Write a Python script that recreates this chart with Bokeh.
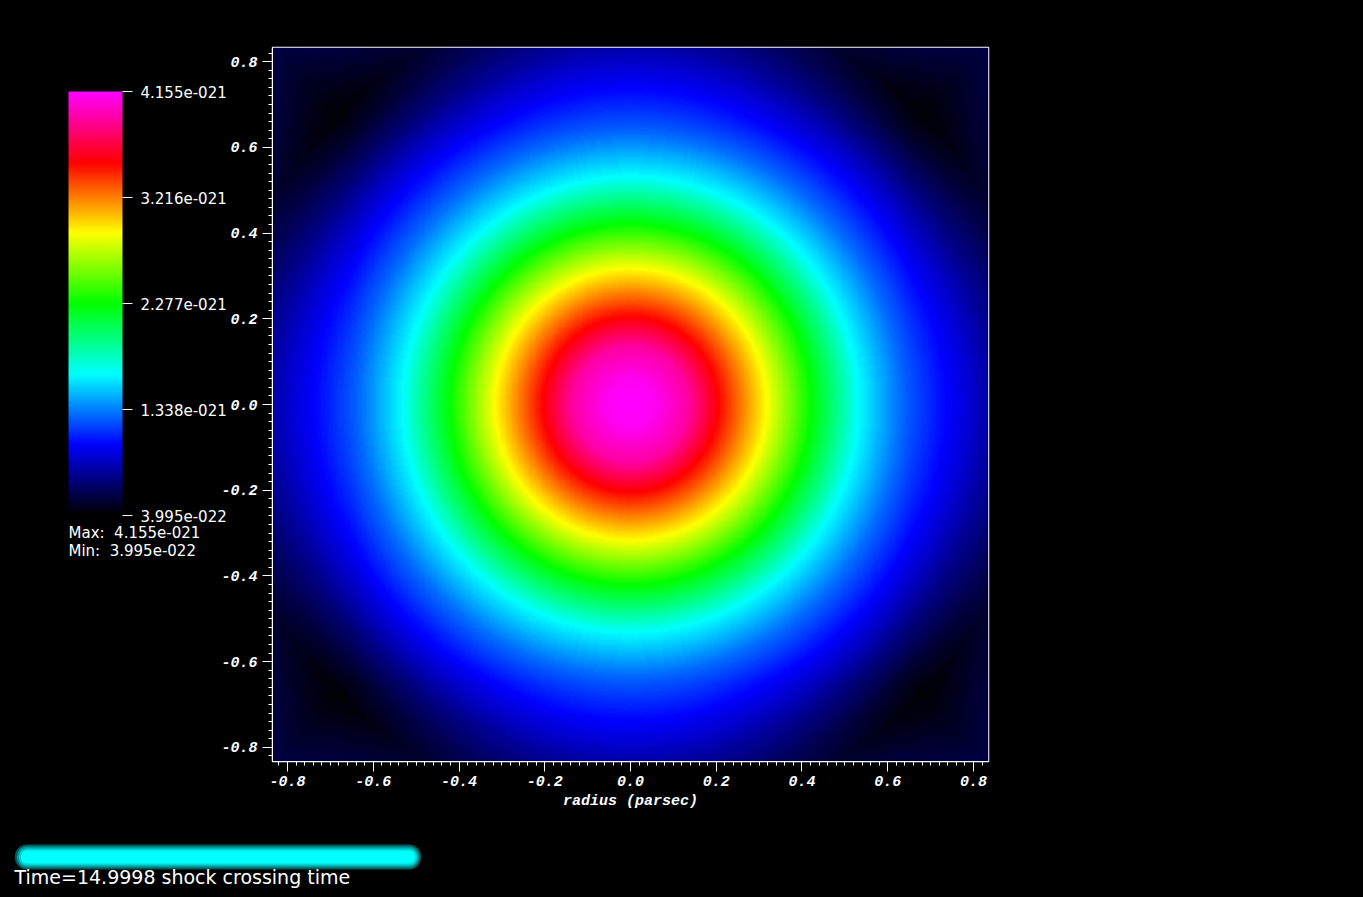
import numpy as np
from bokeh.plotting import figure
from bokeh.models import (LinearColorMapper, ColorBar, FixedTicker, CustomJSTickFormatter,
                          SingleIntervalTicker, PrintfTickFormatter, Label)
from bokeh.embed import file_html
from bokeh.resources import INLINE

# ---------------- data ----------------
# radial density profile, units of 1e-21 (g/cm^3)
radius_samples = [0.0, 0.056, 0.135, 0.2045, 0.317, 0.422, 0.534, 0.63, 0.725,
                  0.78, 0.834, 0.90, 0.96, 1.05, 1.18]
density_samples = [4.155, 4.118, 3.922, 3.528, 2.904, 2.277, 1.650, 1.301, 1.027,
                   0.870, 0.700, 0.520, 0.400, 0.430, 0.450]
# rise of density close to the box boundary (units of 1e-21)
edge_distance = [0.0, 0.1, 0.18]
edge_boost = [0.12, 0.04, 0.0]

rho_min = 3.995e-22
rho_max = 4.155e-21
cbar_ticks = [3.995e-22, 1.338e-21, 2.277e-21, 3.216e-21, 4.155e-21]
max_text = "Max:\u00a0 4.155e-021"
min_text = "Min:\u00a0 3.995e-022"
time_text = "Time=14.9998 shock crossing time"
x_label = "radius (parsec)"
x_extent = (-0.835, 0.835)
y_extent = (-0.833, 0.833)

# ---------------- field ----------------
N = 420
xs = np.linspace(x_extent[0], x_extent[1], N)
ys = np.linspace(y_extent[0], y_extent[1], N)
X, Y = np.meshgrid(xs, ys)
R = np.sqrt(X ** 2 + Y ** 2)
D = np.minimum(np.minimum(X - x_extent[0], x_extent[1] - X),
               np.minimum(Y - y_extent[0], y_extent[1] - Y))
field = (np.interp(R, radius_samples, density_samples)
         + np.interp(D, edge_distance, edge_boost)) * 1e-21
field = np.clip(field, rho_min, rho_max)

# ---------------- colour map ----------------
stops = [0.0, 1/6, 2/6, 3/6, 4/6, 5/6, 1.0]
stop_rgb = [(0, 0, 0), (0, 0, 255), (0, 255, 255), (0, 255, 0),
            (255, 255, 0), (255, 0, 0), (255, 0, 255)]
t = np.linspace(0, 1, 256)
chan = [np.interp(t, stops, [c[i] for c in stop_rgb]) for i in range(3)]
palette = ["#%02x%02x%02x" % (int(round(r)), int(round(g)), int(round(b)))
           for r, g, b in zip(*chan)]
mapper = LinearColorMapper(palette=palette, low=rho_min, high=rho_max)

# ---------------- figure ----------------
W, H = 1363, 897
FL, FT = 272, 47
FW, FH = 716, 714
FR, FB = W - FL - FW, H - FT - FH
p = figure(frame_width=FW, frame_height=FH, min_border_left=FL, min_border_right=FR,
           min_border_top=FT, min_border_bottom=FB,
           x_range=x_extent, y_range=y_extent, output_backend="svg",
           toolbar_location=None, background_fill_color="black",
           border_fill_color="black", outline_line_color="white",
           outline_line_width=1.5)
p.image(image=[field], x=x_extent[0], y=y_extent[0],
        dw=x_extent[1] - x_extent[0], dh=y_extent[1] - y_extent[0],
        color_mapper=mapper)
p.grid.visible = False


def px_x(px):
    return x_extent[0] + (px - FL) / FW * (x_extent[1] - x_extent[0])


def px_y(py):
    return y_extent[1] - (py - FT) / FH * (y_extent[1] - y_extent[0])


for ax in (p.xaxis[0], p.yaxis[0]):
    ax.ticker = SingleIntervalTicker(interval=0.2, num_minor_ticks=10)
    ax.formatter = PrintfTickFormatter(format="%.1f")
    ax.axis_line_color = "white"
    ax.major_tick_line_color = "white"
    ax.minor_tick_line_color = "white"
    ax.major_tick_in = 0
    ax.major_tick_out = 10
    ax.minor_tick_in = 0
    ax.minor_tick_out = 4
    ax.major_label_text_color = "white"
    ax.major_label_text_font = "Liberation Mono"
    ax.major_label_text_font_style = "bold italic"
    ax.major_label_text_font_size = "15px"
    ax.major_label_standoff = 5
p.xaxis.axis_label = x_label
p.xaxis.axis_label_text_color = "white"
p.xaxis.axis_label_text_font = "Liberation Mono"
p.xaxis.axis_label_text_font_style = "bold italic"
p.xaxis.axis_label_text_font_size = "15px"
p.xaxis.axis_label_standoff = 4
p.xaxis.major_label_standoff = 4

# ---------------- colour bar ----------------
cb_formatter = CustomJSTickFormatter(code="""
let s = tick.toExponential(3);
return s.replace(/e([+-])(\\d+)$/, function(m, sg, d) { return 'e' + sg + d.padStart(3, '0'); });
""")
cb = ColorBar(color_mapper=mapper, ticker=FixedTicker(ticks=cbar_ticks),
              formatter=cb_formatter, location=(-204, 246), width=54, height=424,
              padding=0, margin=0, orientation="vertical",
              background_fill_alpha=0, border_line_color=None, bar_line_color=None,
              major_tick_out=10, major_tick_in=0, major_tick_line_color="white",
              major_tick_line_width=1, minor_tick_line_color=None,
              major_label_text_color="white", major_label_text_font="DejaVu Sans",
              major_label_text_font_size="15px", label_standoff=8)
p.add_layout(cb)

# texts and time bar live in the bottom side panel so that they are not clipped
for txt, py in ((max_text, 532), (min_text, 550)):
    p.add_layout(Label(x=px_x(68), y=px_y(py), text=txt,
                       text_color="white", text_font="DejaVu Sans",
                       text_font_size="15px", text_baseline="middle"), "below")

pill_cx, pill_cy = px_x((14 + 421) / 2), px_y((844 + 869) / 2)
for inset, col in ((0, "#005c5c"), (2, "#009a9a"), (4, "#00d4d4"), (6, "#00ffff")):
    p.add_layout(Label(x=pill_cx, y=pill_cy, text="\u00a0", text_font_size="1px",
                       text_align="center", text_baseline="middle",
                       background_fill_color=col, background_fill_alpha=1,
                       padding=dict(left=203 - inset, right=203 - inset,
                                    top=12 - inset, bottom=12 - inset),
                       border_radius=12 - inset), "below")

p.add_layout(Label(x=px_x(14), y=px_y(876), text=time_text,
                   text_color="white", text_font="DejaVu Sans",
                   text_font_size="19px", text_baseline="middle"), "below")

html = file_html(p, INLINE)
html = html.replace("<head>",
                    "<head><style>html,body{background:#000;overflow:hidden;}</style>", 1)
open("out.html", "w").write(html)
